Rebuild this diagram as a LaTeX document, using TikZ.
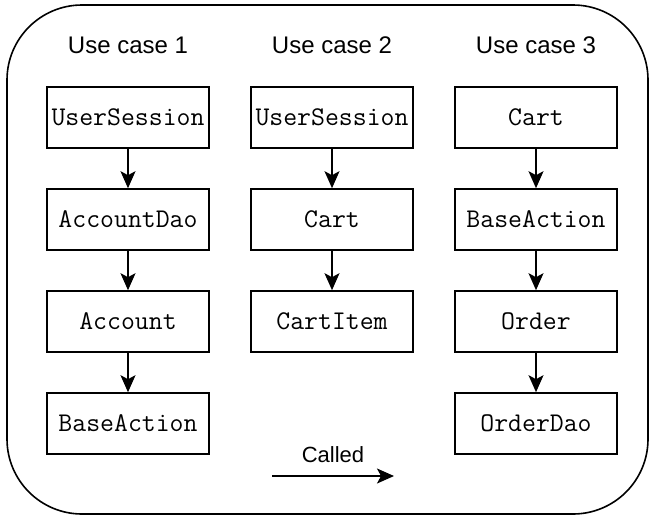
\documentclass[tikz,border=0pt]{standalone}
\usepackage{fontspec}
\setmainfont{Liberation Sans}
\usetikzlibrary{arrows.meta}
\begin{document}
\begin{tikzpicture}[x=1pt,y=-1pt,
  cls/.style={draw, line width=1.6pt, minimum width=162pt, minimum height=61pt,
    inner sep=0pt, font=\ttfamily\fontsize{27}{27}\selectfont},
  hdr/.style={font=\fontsize{24}{24}\selectfont, inner sep=0pt},
  call/.style={line width=1.6pt, -{Stealth[length=17pt,width=15pt,inset=4pt]}}]
\useasboundingbox (0,0) rectangle (652,517);
% frame around the three use cases
\draw[line width=1.6pt, rounded corners=75pt] (7,5) rectangle (648,514);
% column headings
\node[hdr] (h1) at (128,45) {Use case 1};
\node[hdr] (h2) at (332,45) {Use case 2};
\node[hdr] (h3) at (536,45) {Use case 3};
% use case 1
\node[cls] (a1) at (128,117.5) {UserSession};
\node[cls] (a2) at (128,219.5) {AccountDao};
\node[cls] (a3) at (128,321.5) {Account};
\node[cls] (a4) at (128,423.5) {BaseAction};
% use case 2
\node[cls] (b1) at (332,117.5) {UserSession};
\node[cls] (b2) at (332,219.5) {Cart};
\node[cls] (b3) at (332,321.5) {CartItem};
% use case 3
\node[cls] (c1) at (536,117.5) {Cart};
\node[cls] (c2) at (536,219.5) {BaseAction};
\node[cls] (c3) at (536,321.5) {Order};
\node[cls] (c4) at (536,423.5) {OrderDao};
% call chains
\draw[call] (a1) -- (a2);
\draw[call] (a2) -- (a3);
\draw[call] (a3) -- (a4);
\draw[call] (b1) -- (b2);
\draw[call] (b2) -- (b3);
\draw[call] (c1) -- (c2);
\draw[call] (c2) -- (c3);
\draw[call] (c3) -- (c4);
% legend
\node[hdr, font=\fontsize{22}{22}\selectfont] (lg) at (333,455) {Called};
\coordinate (l0) at (272,476);
\coordinate (l1) at (394,476);
\draw[call] (l0) -- (l1);
\end{tikzpicture}
\end{document}
